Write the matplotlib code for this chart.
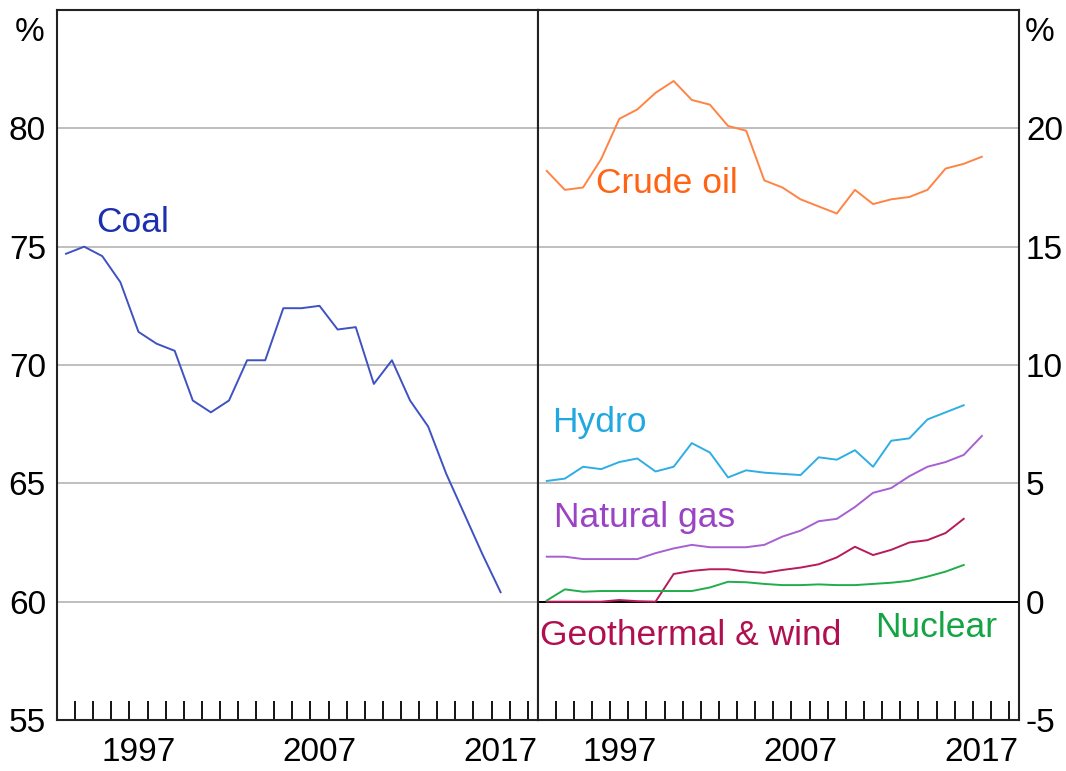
import numpy as np
import matplotlib
matplotlib.use('Agg')
import matplotlib.pyplot as plt

plt.rcParams['font.family'] = ['Liberation Sans', 'DejaVu Sans']
plt.rcParams['axes.unicode_minus'] = False

# annual data, plotted at mid-year
years25 = np.arange(1993, 2018) + 0.5
years24 = np.arange(1993, 2017) + 0.5

coal = [74.7, 75.0, 74.6, 73.5, 71.4, 70.9, 70.6, 68.5, 68.0, 68.5, 70.2, 70.2,
        72.4, 72.4, 72.5, 71.5, 71.6, 69.2, 70.2, 68.5, 67.4, 65.4, 63.7, 62.0, 60.4]
crude_oil = [18.2, 17.4, 17.5, 18.7, 20.4, 20.8, 21.5, 22.0, 21.2, 21.0, 20.1, 19.9,
             17.8, 17.5, 17.0, 16.7, 16.4, 17.4, 16.8, 17.0, 17.1, 17.4, 18.3, 18.5, 18.8]
hydro = [5.1, 5.2, 5.7, 5.6, 5.9, 6.05, 5.5, 5.7, 6.7, 6.3, 5.25, 5.55,
         5.45, 5.4, 5.35, 6.1, 6.0, 6.4, 5.7, 6.8, 6.9, 7.7, 8.0, 8.3]
natural_gas = [1.9, 1.9, 1.8, 1.8, 1.8, 1.8, 2.05, 2.25, 2.4, 2.3, 2.3, 2.3,
               2.4, 2.75, 3.0, 3.4, 3.5, 4.0, 4.6, 4.8, 5.3, 5.7, 5.9, 6.2, 7.0]
geo_wind = [0.0, 0.0, 0.0, 0.0, 0.07, 0.02, 0.0, 1.17, 1.3, 1.37, 1.37, 1.27,
            1.22, 1.34, 1.44, 1.58, 1.87, 2.32, 1.97, 2.19, 2.5, 2.6, 2.9, 3.5]
nuclear = [0.05, 0.52, 0.42, 0.45, 0.45, 0.45, 0.45, 0.45, 0.45, 0.6, 0.84, 0.82,
           0.75, 0.7, 0.7, 0.73, 0.7, 0.7, 0.75, 0.8, 0.88, 1.06, 1.27, 1.55]

left_ticks = [55, 60, 65, 70, 75, 80]
right_ticks = [-5, 0, 5, 10, 15, 20]
year_labels = ['1997', '2007', '2017']
year_label_pos = [1997.5, 2007.5, 2017.5]

W, H = 1066, 771
fig = plt.figure(figsize=(W / 100, H / 100), dpi=100)
ax1 = fig.add_axes([57 / W, 51 / H, (537.7 - 57) / W, 710 / H])
ax2 = fig.add_axes([537.7 / W, 51 / H, (1019 - 537.7) / W, 710 / H])

fs = 24     # tick labels
lfs = 25.5  # series labels
for ax in (ax1, ax2):
    ax.set_xlim(1993, 2019.55)
    ax.set_xticks(np.arange(1994, 2020))
    ax.set_xticklabels([])
    ax.set_xticks(year_label_pos, minor=True)
    ax.set_xticklabels(year_labels, minor=True, fontsize=fs)
    ax.tick_params(axis='x', which='major', direction='in', length=14, width=1.3, color='black')
    ax.tick_params(axis='x', which='minor', length=0, pad=12)
    ax.tick_params(axis='y', length=0, labelsize=fs, pad=8)
    for s in ax.spines.values():
        s.set_linewidth(1.5)
        s.set_color('#222222')
    ax.grid(axis='y', color='#b4b4b4', linewidth=1.2)
    ax.set_axisbelow(True)

# left panel: coal
ax1.set_ylim(55, 85)
ax1.set_yticks(left_ticks)
ax1.plot(years25, coal, color='#3e52c2', lw=1.4)
ax1.text(1995.15, 75.6, 'Coal', color='#1c2fae', fontsize=lfs, ha='left', va='baseline')
ax1.text(-0.025, 0.99, '%', transform=ax1.transAxes, fontsize=fs, ha='right', va='top')

# right panel
ax2.set_ylim(-5, 25)
ax2.set_yticks(right_ticks)
ax2.yaxis.tick_right()
ax2.tick_params(axis='y', pad=5)
ax2.axhline(0, color='black', lw=1.4)
ax2.plot(years25, crude_oil, color='#ff8444', lw=1.4)
ax2.plot(years24, hydro, color='#2eaee4', lw=1.4)
ax2.plot(years25, natural_gas, color='#a760d2', lw=1.4)
ax2.plot(years24, geo_wind, color='#b81a5a', lw=1.4)
ax2.plot(years24, nuclear, color='#20ad4c', lw=1.4)

ax2.text(1996.2, 17.27, 'Crude oil', color='#ff6414', fontsize=lfs, ha='left', va='baseline')
ax2.text(1993.8, 7.15, 'Hydro', color='#22a8e0', fontsize=lfs, ha='left', va='baseline')
ax2.text(1993.9, 3.14, 'Natural gas', color='#9a44c4', fontsize=lfs, ha='left', va='baseline')
ax2.text(1993.1, -1.81, 'Geothermal & wind', color='#b01050', fontsize=lfs, ha='left', va='baseline')
ax2.text(2011.6, -1.51, 'Nuclear', color='#14a444', fontsize=lfs, ha='left', va='baseline')
ax2.text(1.012, 0.99, '%', transform=ax2.transAxes, fontsize=fs, ha='left', va='top')

fig.savefig('out.png', dpi=100)
